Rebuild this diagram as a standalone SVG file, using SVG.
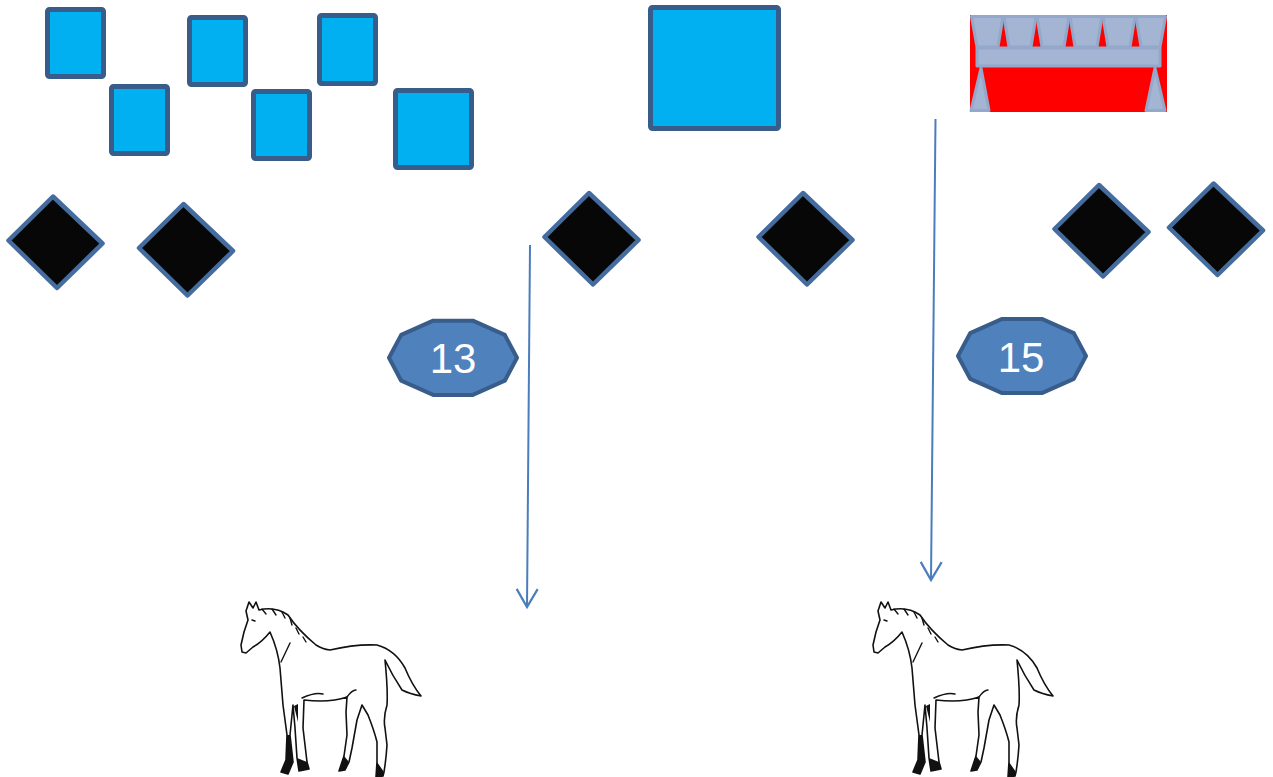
<svg xmlns="http://www.w3.org/2000/svg" xmlns:xlink="http://www.w3.org/1999/xlink" width="1273" height="777" viewBox="0 0 1273 777">
<style>
.sq{fill:#00B0F0;stroke:#385D8A;stroke-width:5;stroke-linejoin:round}
.dia{fill:#070707;stroke:#456C9E;stroke-width:4.5;stroke-linejoin:round}
.oct{fill:#4F81BD;stroke:#385D8A;stroke-width:4;stroke-linejoin:round}
.lbl{fill:#FFFFFF;font-family:"Liberation Sans",Arial,sans-serif;font-size:42px;text-anchor:middle}
.conn{fill:none;stroke:#4A7EBB;stroke-width:2}
.trap{fill:#A3B5D3;stroke:#93A8CA;stroke-width:3;stroke-linejoin:round}
.horse{fill:#FFFFFF;stroke:#111111;stroke-width:1.6;stroke-linejoin:round;stroke-linecap:round}
.hdet{fill:none;stroke:#111111;stroke-width:1.4;stroke-linecap:round}
.hblk{fill:#111111;stroke:none}
</style>
<defs>
<marker id="arr" markerWidth="26" markerHeight="26" refX="21" refY="13" orient="auto" markerUnits="userSpaceOnUse" overflow="visible">
<path d="M 3 2.5 L 21 13 L 3 23.5" fill="none" stroke="#4A7EBB" stroke-width="2.2"/>
</marker>
<path id="diamond" d="M -2.5 -45.5 L 47 1.5 L 1.5 46 L -47 -1.5 Z"/>
<polygon id="deca" points="64,0 51.8,22.9 19.8,37.1 -19.8,37.1 -51.8,22.9 -64,0 -51.8,-22.9 -19.8,-37.1 19.8,-37.1 51.8,-22.9"/>
<g id="horseShape">
<path class="horse" d="M 241 645 L 244 632 L 248 620 L 246 611 L 249 602 L 253 608 L 256 602 L 259 610 Q 275 606 288 615 Q 298 630 316 645 Q 322 649 330 650 Q 355 644 377 645 Q 395 650 405 668 Q 412 685 421 696 Q 410 694 402 690 Q 392 675 385 660 Q 388 690 387 705 Q 383 718 385 728 L 387 745 Q 386 760 384 772 L 383 776 L 376 777 L 377 762 L 377 742 Q 374 730 368 715 L 362 705 L 357 720 L 352 748 L 349 762 L 345 770 L 339 771 L 344 756 L 347 735 L 346 712 L 347 697 Q 330 703 304 700 L 303 728 L 307 762 L 309 769 L 299 771 L 297 758 L 295 728 L 293 705 L 290 735 L 293 762 L 288 774 L 281 772 L 286 760 L 287 735 L 283 705 L 280 668 Q 278 650 270 632 Q 262 642 253 647 L 246 653 L 242 652 Z"/>
<path class="hdet" d="M 281 662 L 290 643 M 262 609 L 266 614 M 272 609 L 276 615 M 282 612 L 285 618 M 290 618 L 292 625 M 296 628 L 299 634 M 303 637 L 306 642 M 302 698 Q 315 692 323 694 M 347 697 Q 352 690 356 690 M 252 620 L 255 621"/>
<path class="hblk" d="M 287 735 L 290 735 L 293 762 L 288 774 L 281 772 L 286 760 Z M 297 758 L 307 762 L 309 769 L 299 771 Z M 344 756 L 349 762 L 345 770 L 339 771 Z M 377 762 L 384 772 L 383 776 L 376 777 Z M 294 706 L 298 704 L 298 722 Z"/>
</g>
</defs>

<g id="connectors">
<line class="conn" x1="530" y1="245" x2="527" y2="607" marker-end="url(#arr)"/>
<line class="conn" x1="935.5" y1="119" x2="931" y2="580" marker-end="url(#arr)"/>
</g>

<g id="sq1"><rect class="sq" x="47.5" y="9.5" width="56" height="67" rx="2"/></g>
<g id="sq2"><rect class="sq" x="111.5" y="86.5" width="56" height="67" rx="2"/></g>
<g id="sq3"><rect class="sq" x="189.5" y="17.5" width="56" height="67" rx="2"/></g>
<g id="sq4"><rect class="sq" x="253.5" y="91.5" width="56" height="67" rx="2"/></g>
<g id="sq5"><rect class="sq" x="319.5" y="15.5" width="56" height="68" rx="2"/></g>
<g id="sq6"><rect class="sq" x="395.5" y="90.5" width="76" height="77" rx="2"/></g>
<g id="sq7"><rect class="sq" x="650.5" y="7.5" width="128" height="121" rx="2"/></g>

<g id="bridge">
<rect x="970" y="15" width="197" height="97" fill="#FF0000"/>
<polygon class="trap" points="971.5,16.5 1003,16.5 998,47 977,47"/>
<polygon class="trap" points="1004,16.5 1036,16.5 1031,47 1009,47"/>
<polygon class="trap" points="1037,16.5 1069,16.5 1064,47 1042,47"/>
<polygon class="trap" points="1070,16.5 1102,16.5 1097,47 1075,47"/>
<polygon class="trap" points="1103,16.5 1135,16.5 1130,47 1108,47"/>
<polygon class="trap" points="1136,16.5 1165.5,16.5 1160,47 1141,47"/>
<rect class="trap" x="977" y="48" width="183" height="18"/>
<polygon class="trap" points="981,68 989,110.5 971,110.5"/>
<polygon class="trap" points="1155,68 1165,110.5 1146,110.5"/>
</g>

<g id="d1"><use xlink:href="#diamond" class="dia" x="55.5" y="242"/></g>
<g id="d2"><use xlink:href="#diamond" class="dia" x="186" y="249.5"/></g>
<g id="d3"><use xlink:href="#diamond" class="dia" x="591.5" y="238.5"/></g>
<g id="d4"><use xlink:href="#diamond" class="dia" x="805.5" y="238.5"/></g>
<g id="d5"><use xlink:href="#diamond" class="dia" x="1101.5" y="230.5"/></g>
<g id="d6"><use xlink:href="#diamond" class="dia" x="1216" y="229"/></g>

<g id="n13"><use xlink:href="#deca" class="oct" x="453" y="357.8"/><text class="lbl" x="453" y="373">13</text></g>
<g id="n15"><use xlink:href="#deca" class="oct" x="1022" y="356"/><text class="lbl" x="1021" y="371.5">15</text></g>

<g id="horse1"><use xlink:href="#horseShape"/></g>
<g id="horse2"><use xlink:href="#horseShape" x="632" y="0"/></g>
</svg>
